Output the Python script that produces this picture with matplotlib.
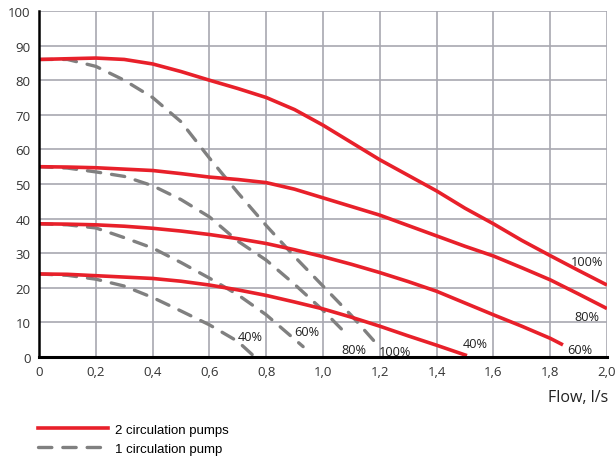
import numpy as np
import matplotlib
matplotlib.use("Agg")
import matplotlib.pyplot as plt

# Pump curves: head vs flow (l/s)
x_red100 = [0, 0.1, 0.2, 0.3, 0.4, 0.5, 0.6, 0.7, 0.8, 0.9, 1.0, 1.1, 1.2, 1.3, 1.4, 1.5, 1.6, 1.7, 1.8, 1.9, 2.0]
y_red100 = [86, 86.2, 86.4, 86, 84.7, 82.5, 80, 77.6, 75, 71.5, 67, 62, 57, 52.5, 48, 43, 38.5, 33.7, 29.3, 25, 20.8]
x_red80 = [0, 0.1, 0.2, 0.3, 0.4, 0.5, 0.6, 0.7, 0.8, 0.9, 1.0, 1.1, 1.2, 1.3, 1.4, 1.5, 1.6, 1.7, 1.8, 1.9, 2.0]
y_red80 = [55, 54.9, 54.7, 54.3, 53.9, 53, 52, 51.3, 50.4, 48.5, 46, 43.5, 41, 38, 35, 32, 29.2, 25.8, 22.3, 18.2, 14]
x_red60 = [0, 0.1, 0.2, 0.3, 0.4, 0.5, 0.6, 0.7, 0.8, 0.9, 1.0, 1.1, 1.2, 1.3, 1.4, 1.5, 1.6, 1.7, 1.8, 1.845]
y_red60 = [38.5, 38.4, 38.2, 37.8, 37.2, 36.4, 35.4, 34.2, 32.8, 31, 29, 26.8, 24.4, 21.8, 19, 15.6, 12.2, 8.9, 5.4, 3.5]
x_red40 = [0, 0.1, 0.2, 0.3, 0.4, 0.5, 0.6, 0.7, 0.8, 0.9, 1.0, 1.1, 1.2, 1.3, 1.4, 1.507]
y_red40 = [24, 23.9, 23.5, 23.1, 22.7, 21.9, 20.8, 19.4, 17.8, 15.9, 13.9, 11.5, 8.9, 6.1, 3.4, 0.4]

x_gray100 = [0, 0.1, 0.2, 0.3, 0.4, 0.5, 0.6, 0.7, 0.8, 0.9, 1.0, 1.1, 1.18]
y_gray100 = [86, 86, 84, 80, 75, 68, 57.5, 47.5, 38, 29, 20.5, 12, 4.6]
x_gray80 = [0, 0.1, 0.2, 0.3, 0.4, 0.5, 0.6, 0.7, 0.8, 0.9, 1.0, 1.09]
y_gray80 = [55, 54.6, 53.5, 52.2, 49.5, 45.5, 40.5, 33.5, 28, 21, 13.5, 6]
x_gray60 = [0, 0.1, 0.2, 0.3, 0.4, 0.5, 0.6, 0.7, 0.8, 0.93]
y_gray60 = [38.5, 38.2, 37.3, 34.5, 31.5, 27.3, 22.8, 18, 12.2, 3]
x_gray40 = [0, 0.1, 0.2, 0.3, 0.4, 0.5, 0.6, 0.7, 0.76]
y_gray40 = [24, 23.6, 22.5, 20.5, 17.2, 13.3, 9.3, 4.5, 0]

# Curve labels (text, x, y)
red_labels = [("100%", 1.93, 27.7), ("80%", 1.93, 11.8), ("60%", 1.905, 2.3), ("40%", 1.535, 3.8)]
gray_labels = [("40%", 0.743, 5.8), ("60%", 0.944, 7.5), ("80%", 1.107, 2.3), ("100%", 1.254, 1.7)]

x_ticks = [0, 0.2, 0.4, 0.6, 0.8, 1.0, 1.2, 1.4, 1.6, 1.8, 2.0]
x_ticklabels = ["0", "0,2", "0,4", "0,6", "0,8", "1,0", "1,2", "1,4", "1,6", "1,8", "2,0"]
y_ticks = [0, 10, 20, 30, 40, 50, 60, 70, 80, 90, 100]

red = "#e8202a"
gray = "#808080"

fig = plt.figure(figsize=(6.15, 4.6), dpi=100)
ax = fig.add_axes([39/615, 1-358/460, 568/615, 346/460])

lw = 2.6
for xs, ys in [(x_red100, y_red100), (x_red80, y_red80), (x_red60, y_red60), (x_red40, y_red40)]:
    ax.plot(xs, ys, color=red, lw=lw, solid_capstyle="butt", solid_joinstyle="round", zorder=4)
for xs, ys in [(x_gray100, y_gray100), (x_gray80, y_gray80), (x_gray60, y_gray60), (x_gray40, y_gray40)]:
    ax.plot(xs, ys, color=gray, lw=2.4, dashes=(4.0, 3.3), dash_capstyle="round", zorder=3)

for t, x, y in red_labels + gray_labels:
    ax.text(x, y, t, ha="center", va="center", fontsize=9.2, family="Open Sans", color="#222222", zorder=5)

ax.set_xlim(0, 2.0)
ax.set_ylim(0, 100)
ax.set_xticks(x_ticks)
ax.set_xticklabels(x_ticklabels)
ax.set_yticks(y_ticks)
for lab in ax.get_xticklabels() + ax.get_yticklabels():
    lab.set_family("Open Sans")
    lab.set_fontsize(9.5)
    lab.set_color("#333333")
ax.tick_params(length=0, pad=6)
ax.grid(True, color="#a8a8b0", lw=1.2)
ax.set_axisbelow(True)
for s in ["top", "right"]:
    ax.spines[s].set_visible(False)
ax.spines["left"].set_linewidth(1.8)
ax.spines["bottom"].set_linewidth(2.2)
ax.spines["left"].set_zorder(6)
ax.spines["bottom"].set_zorder(6)

fig.text(608/615, 1-398/460, "Flow, l/s", ha="right", va="center", fontsize=11.5, family="Open Sans", color="#222222")

# legend
h1, = ax.plot([], [], color=red, lw=lw)
h2, = ax.plot([], [], color=gray, lw=2.4, dashes=(4.0, 3.3), dash_capstyle="round")
fig.legend([h1, h2], ["2 circulation pumps", "1 circulation pump"], loc="center left",
           bbox_to_anchor=(33/615, 1-440/460), frameon=False, handlelength=5.3,
           handletextpad=0.55, labelspacing=0.5, borderaxespad=0,
           prop={"family": "Liberation Sans", "size": 9.5})

fig.savefig("out.png", dpi=100)
